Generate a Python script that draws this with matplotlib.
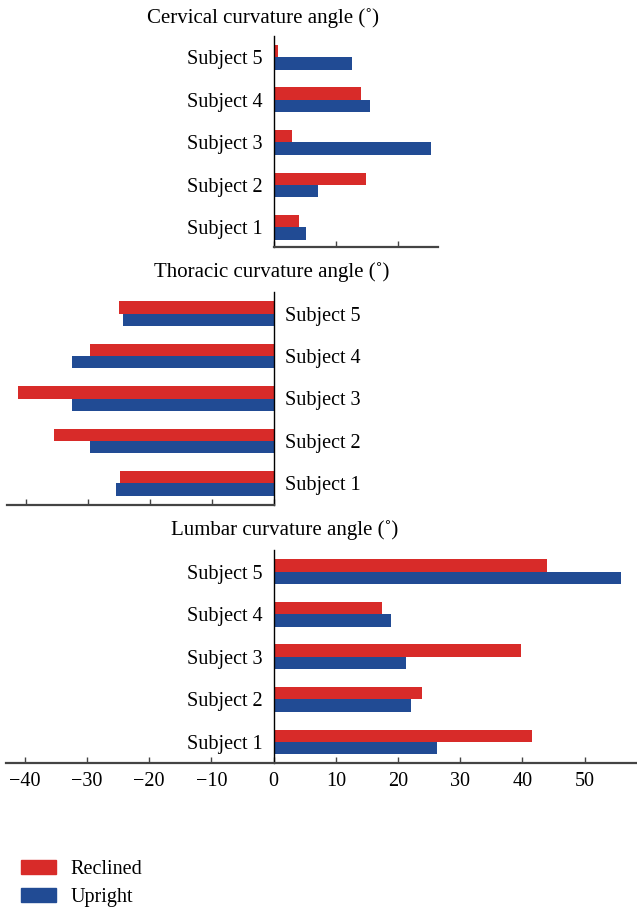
import matplotlib
matplotlib.use("Agg")
import matplotlib.pyplot as plt
import numpy as np
from matplotlib.patches import Patch

plt.rcParams['font.family'] = ['Liberation Serif', 'DejaVu Serif']
plt.rcParams['font.size'] = 14.5

subjects = ["Subject 1", "Subject 2", "Subject 3", "Subject 4", "Subject 5"]

cervical_reclined = [4.0, 14.8, 2.9, 13.9, 0.7]
cervical_upright = [5.1, 7.0, 25.3, 15.4, 12.6]

thoracic_reclined = [-24.8, -35.5, -41.3, -29.7, -24.9]
thoracic_upright = [-25.4, -29.6, -32.5, -32.5, -24.3]

lumbar_reclined = [41.6, 23.9, 39.8, 17.5, 44.0]
lumbar_upright = [26.3, 22.1, 21.3, 18.8, 55.9]

RED = "#d82b29"
BLUE = "#214b94"
W, H = 637, 909

fig = plt.figure(figsize=(W / 100, H / 100), dpi=100)


def px_axes(left, top, right, bottom):
    return fig.add_axes([left / W, 1 - bottom / H, (right - left) / W, (bottom - top) / H])


def draw_panel(ax, reclined, upright, xlim, ylim, xticks, labels_right=False, show_xlabels=False):
    y = np.arange(len(subjects))
    h = 0.29
    ax.barh(y + h / 2, reclined, height=h, color=RED)
    ax.barh(y - h / 2, upright, height=h, color=BLUE)
    ax.set_xlim(*xlim)
    ax.set_ylim(*ylim)
    ax.set_yticks(y)
    ax.set_yticklabels(subjects)
    ax.set_xticks(xticks)
    if not show_xlabels:
        ax.set_xticklabels([])
    ax.tick_params(axis='x', direction='in', length=4, width=1, color="#444444", labelsize=14.5, pad=7)
    ax.tick_params(axis='y', length=0, pad=8)
    ax.spines['top'].set_visible(False)
    ax.spines['bottom'].set_color("#444444")
    ax.spines['bottom'].set_linewidth(1.6)
    if labels_right:
        ax.spines['left'].set_visible(False)
        ax.spines['right'].set_linewidth(1.0)
        ax.yaxis.tick_right()
    else:
        ax.spines['right'].set_visible(False)
        ax.spines['left'].set_linewidth(1.0)
        ax.spines['left'].set_position(('data', 0))


# cervical
ax1 = px_axes(274, 36, 437.7, 247)
draw_panel(ax1, cervical_reclined, cervical_upright, (0, 26.3), (-0.46, 4.5), [0, 10, 20])

# thoracic
ax2 = px_axes(7, 292, 274, 505)
draw_panel(ax2, thoracic_reclined, thoracic_upright, (-43, 0), (-0.51, 4.51),
           [-40, -30, -20, -10, 0], labels_right=True)

# lumbar
ax3 = px_axes(6, 550, 637, 762.7)
draw_panel(ax3, lumbar_reclined, lumbar_upright, (-43, 58.4), (-0.49, 4.51),
           [-40, -30, -20, -10, 0, 10, 20, 30, 40, 50], show_xlabels=True)
ax3.tick_params(axis='y', pad=8)

fig.text(263 / W, 1 - 18 / H, "Cervical curvature angle (˚)", ha='center', va='center', fontsize=15)
fig.text(272 / W, 1 - 272 / H, "Thoracic curvature angle (˚)", ha='center', va='center', fontsize=15)
fig.text(285 / W, 1 - 530 / H, "Lumbar curvature angle (˚)", ha='center', va='center', fontsize=15)

handles = [Patch(color=RED, label="Reclined"), Patch(color=BLUE, label="Upright")]
fig.legend(handles=handles, loc='lower left', bbox_to_anchor=(21 / W, 2 / H), frameon=False,
           borderpad=0, borderaxespad=0,
           handlelength=1.74, handleheight=0.65, handletextpad=0.7, labelspacing=0.45, fontsize=14.5)

fig.savefig("out.png", dpi=100)
